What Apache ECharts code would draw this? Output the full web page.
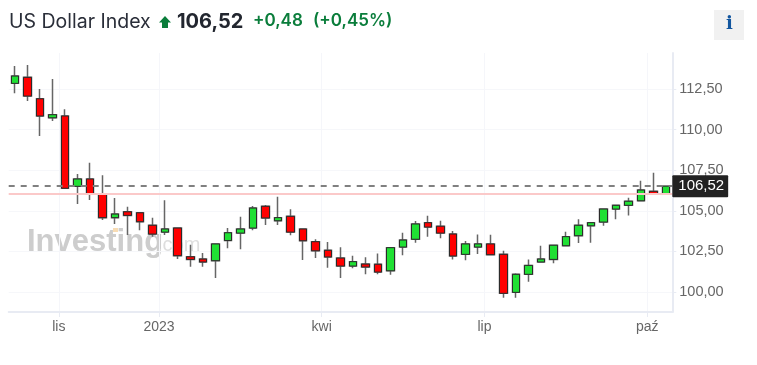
<!DOCTYPE html>
<html>
<head>
<meta charset="utf-8">
<title>US Dollar Index</title>
<script src="https://cdn.jsdelivr.net/npm/echarts@6/dist/echarts.min.js"></script>
<style>
html,body{margin:0;padding:0;background:#fff;}
#chart{width:757px;height:365px;}
</style>
</head>
<body>
<div id="chart"></div>
<script>
// daily candles
var opens = [112.85,113.22,111.90,110.73,110.84,106.51,106.96,106.03,104.58,104.94,104.88,104.11,103.69,103.94,102.17,102.03,101.93,103.17,103.63,103.94,105.28,104.39,104.66,103.88,103.10,102.57,102.09,101.60,101.72,101.71,101.31,102.77,103.25,104.27,104.05,103.57,102.32,102.77,102.96,102.32,99.98,101.09,101.85,102.01,102.85,103.47,104.08,104.31,105.11,105.34,105.62,106.20,106.04];
var closes = [113.30,112.07,110.84,110.92,106.39,106.96,106.03,104.58,104.80,104.72,104.33,103.57,103.88,102.24,102.01,101.85,102.96,103.65,103.88,105.17,104.56,104.58,103.69,103.16,102.54,102.16,101.60,101.87,101.54,101.23,102.73,103.20,104.19,104.00,103.63,102.22,102.96,102.96,102.30,99.92,101.09,101.64,102.03,102.88,103.41,104.11,104.27,105.11,105.34,105.59,106.28,106.02,106.52];
var lows = [112.24,111.76,109.61,110.53,106.39,105.42,105.67,104.43,104.19,103.51,103.80,103.41,103.51,102.03,101.56,101.56,100.86,102.69,102.63,103.80,104.13,104.13,103.49,101.97,102.09,101.50,100.86,101.46,101.09,101.09,101.07,102.26,103.04,103.41,103.31,102.01,101.95,102.34,102.28,99.65,99.65,100.63,101.80,101.77,102.83,103.02,103.04,104.08,104.48,104.72,105.60,106.02,106.04];
var highs = [113.92,113.98,112.50,113.12,111.25,107.27,107.96,107.19,105.79,105.25,104.90,104.58,105.65,103.97,102.91,102.40,102.96,103.94,104.64,105.30,105.36,105.87,105.09,103.88,103.25,103.08,102.75,102.24,102.14,102.38,102.73,103.65,104.37,104.70,104.39,103.76,103.14,103.55,103.53,102.54,101.15,102.01,102.85,102.91,103.71,104.48,104.29,105.13,105.38,105.81,106.85,107.35,106.53];
var priceTicks = [100,102.5,105,107.5,110,112.5];
var timePositions = [3.5,11.5,24.5,37.5,50.5];
var timeLabels = ['lis','2023','kwi','lip','paź'];
var lastPrice = 106.52;
var prevClose = 106.05;

var days = [];
var wicks = [];
var bodies = [];
for(var i=0;i<opens.length;i++){
    days.push(i);
    wicks.push([opens[i],closes[i],lows[i],highs[i]]);
    bodies.push([opens[i],closes[i],Math.min(opens[i],closes[i]),Math.max(opens[i],closes[i])]);
}

function comma(v){
    return v.toFixed(2).replace('.',',');
}

var UP = '#20e034', DOWN = '#ff0000';
var mychart = echarts.init(document.getElementById('chart'));
var option = {
    animation:false,
    backgroundColor:'#fff',
    textStyle:{fontFamily:'"Liberation Sans",Arial,sans-serif'},
    grid:{left:8.7,right:84.7,top:53,bottom:53},
    xAxis:[
        {type:'category',data:days,show:false,boundaryGap:true},
        {
            type:'value',min:-0.5,max:52.5,position:'bottom',
            axisLine:{show:true,onZero:false,lineStyle:{color:'#e8ebf3',width:2}},
            axisTick:{show:true,length:5,customValues:timePositions,lineStyle:{color:'#e8ebf3',width:1}},
            axisLabel:{
                customValues:timePositions,color:'#666',fontSize:14,margin:8,
                formatter:function(v,idx){return timeLabels[timePositions.indexOf(v)];}
            },
            splitLine:{show:true,lineStyle:{color:'#f5f6fa',width:1}}
        }
    ],
    yAxis:{
        type:'value',position:'right',min:98.77,max:114.72,scale:true,
        axisLine:{show:true,onZero:false,lineStyle:{color:'#e8ebf3',width:2}},
        axisTick:{show:true,length:4,customValues:priceTicks,lineStyle:{color:'#e8ebf3',width:1}},
        axisLabel:{customValues:priceTicks,color:'#666',fontSize:14.5,margin:7,padding:[4,0,0,0],formatter:comma},
        splitLine:{show:true,lineStyle:{color:'#f6f7fa',width:1}}
    },
    graphic:[
        {type:'text',left:9,top:12,style:{text:'US Dollar Index',font:'400 19.5px Inter',fill:'#2a2e39'}},
        {type:'polygon',shape:{points:[[165,16],[171,22.5],[168,22.5],[168,28],[162,28],[162,22.5],[159,22.5]]},style:{fill:'#0a7d3b'}},
        {type:'text',left:177,top:12,style:{text:'106,52',font:'700 20px Inter',fill:'#22262f'}},
        {type:'text',left:253,top:12,style:{text:'+0,48',font:'600 17px Inter',fill:'#0a7d3b'}},
        {type:'text',left:313,top:12,style:{text:'(+0,45%)',font:'600 17px Inter',fill:'#0a7d3b'}},
        {type:'rect',shape:{x:714,y:10,width:30,height:30},style:{fill:'#f1f1f1'}},
        {type:'text',left:726,top:15,style:{text:'i',font:'700 18px "DejaVu Serif"',fill:'#12569f'}},
        {type:'text',left:27,top:227,z:-1,style:{text:'Investing',font:'700 31px "Liberation Sans"',fill:'#cdcdcd'}},
        {type:'text',left:157,top:235,z:-1,style:{text:'.com',font:'400 20px "Liberation Sans"',fill:'#dedede'}},
        {type:'rect',z:-1,shape:{x:113,y:228,width:5,height:4},style:{fill:'#f8dcb4'}}
    ],
    series:[
        {
            name:'wicks',type:'candlestick',data:wicks,barWidth:8,xAxisIndex:0,yAxisIndex:0,silent:true,
            itemStyle:{color:UP,color0:DOWN,borderColor:'#666',borderColor0:'#666',borderWidth:1.5},
            markLine:{
                silent:true,symbol:'none',animation:false,
                data:[
                    {
                        yAxis:prevClose,
                        lineStyle:{color:'#fbc9c9',width:2,type:'solid'},
                        label:{show:false}
                    },
                    {
                        yAxis:lastPrice,
                        lineStyle:{color:'#808080',width:2,type:[6,6]},
                        label:{
                            show:true,position:'end',distance:0,formatter:comma(lastPrice),
                            color:'#fff',backgroundColor:'#222',fontSize:15,fontWeight:500,
                            padding:[4,4,3,6],borderRadius:1
                        }
                    }
                ]
            }
        },
        {
            name:'bodies',type:'candlestick',data:bodies,barWidth:8,xAxisIndex:0,yAxisIndex:0,silent:true,
            itemStyle:{color:UP,color0:DOWN,borderColor:'#2b2b2b',borderColor0:'#2b2b2b',borderWidth:1}
        }
    ]
};
mychart.setOption(option);
</script>
</body>
</html>
